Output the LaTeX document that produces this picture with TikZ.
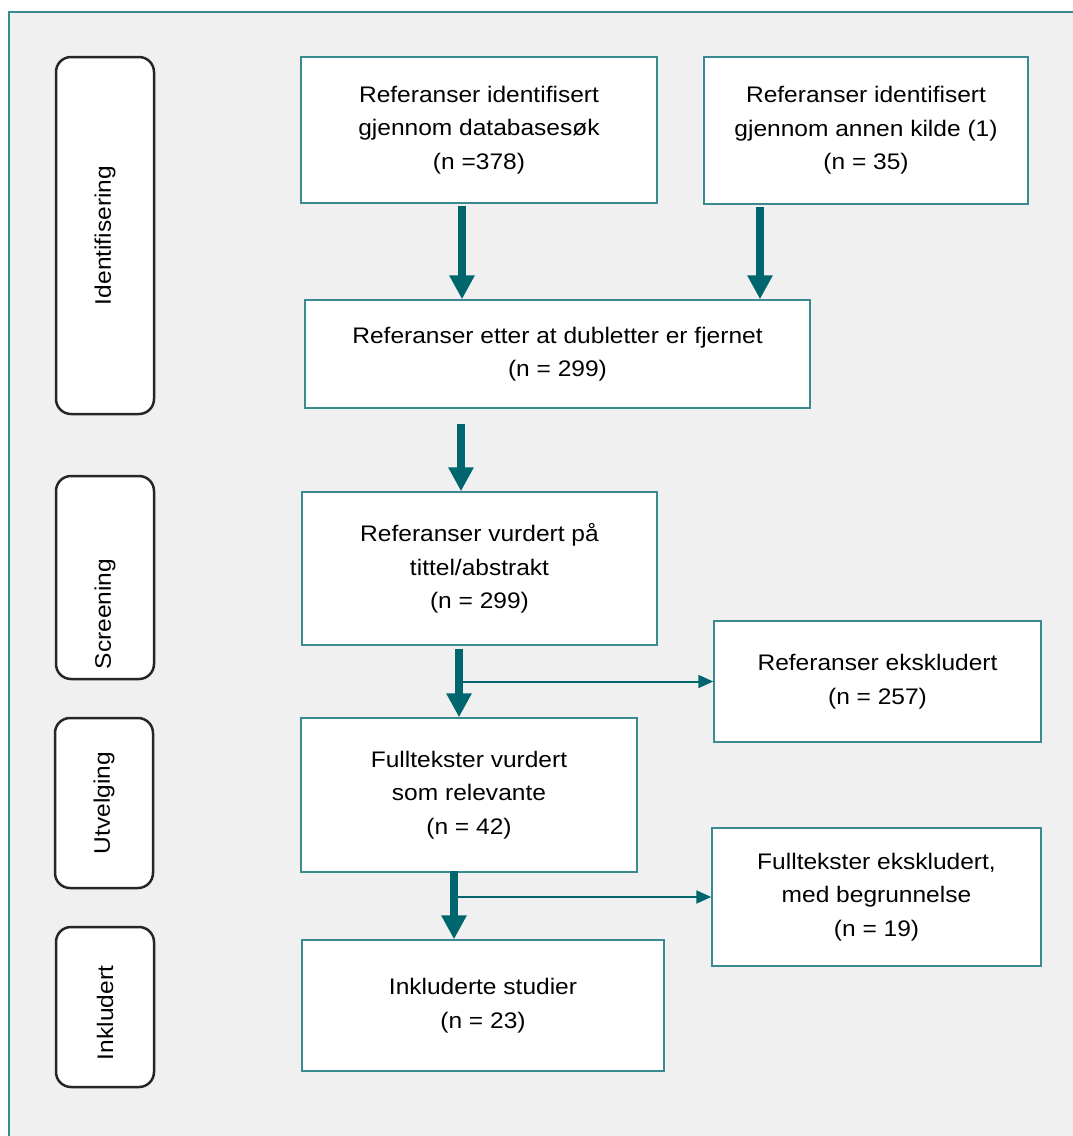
\documentclass[tikz,border=0pt]{standalone}
\usepackage{fontspec}
\setmainfont{Liberation Sans}[FakeStretch=1.09]
\usetikzlibrary{arrows.meta}

\definecolor{boxteal}{HTML}{3A8A92}
\definecolor{arrowteal}{HTML}{00666E}
\definecolor{panelgray}{HTML}{F0F0F0}

\begin{document}
\begin{tikzpicture}[x=1pt, y=-1pt,
    box/.style={draw=boxteal, line width=1.5pt, fill=white, align=center, inner sep=0pt,
        font=\fontsize{22.5}{33.5}\selectfont},
    phase/.style={draw=black!85, line width=2.5pt, fill=white, rounded corners=15pt,
        minimum width=98pt},
    phasetext/.style={rotate=90, inner sep=0pt, font=\fontsize{22.5}{26}\selectfont},
    flow/.style={arrowteal, line width=8pt, -{Triangle[width=24pt,length=24pt]}},
    side/.style={arrowteal, line width=2pt, -{Triangle[width=13pt,length=15pt]}}]
    \useasboundingbox (0,0) rectangle (1073,1136);
    \fill[panelgray] (9,12) rectangle (1073,1136);
    \draw[boxteal, line width=1.5pt] (9,1136) -- (9,12) -- (1073,12);

    \node[phase, minimum height=357pt] (ident) at (105,235.5) {};
    \node[phase, minimum height=203pt] (scr) at (105,577.5) {};
    \node[phase, minimum height=170pt] (utv) at (104,803) {};
    \node[phase, minimum height=160pt] (inkl) at (105,1007) {};

    \node[phasetext] at (ident.center) {Identifisering};
    \node[phasetext] at (105,614) {Screening};
    \node[phasetext] at (utv.center) {Utvelging};
    \node[phasetext] at (105,1013) {Inkludert};

    \node[box, minimum width=356pt, minimum height=146pt] (db) at (479,130)
        {Referanser identifisert\\gjennom databasesøk\\(n =378)};
    \node[box, minimum width=324pt, minimum height=147pt] (other) at (866,130.5)
        {Referanser identifisert\\gjennom annen kilde (1)\\(n = 35)};
    \node[box, minimum width=505pt, minimum height=108pt] (dup) at (557.5,354)
        {Referanser etter at dubletter er fjernet\\(n = 299)};
    \node[box, minimum width=355pt, minimum height=153pt] (screen) at (479.5,568.5)
        {Referanser vurdert på\\tittel/abstrakt\\(n = 299)};
    \node[box, minimum width=327pt, minimum height=121pt] (excl1) at (877.5,681.5)
        {Referanser ekskludert\\(n = 257)};
    \node[box, minimum width=336pt, minimum height=154pt] (full) at (469,795)
        {Fulltekster vurdert\\som relevante\\(n = 42)};
    \node[box, minimum width=329pt, minimum height=138pt] (excl2) at (876.5,897)
        {Fulltekster ekskludert,\\med begrunnelse\\(n = 19)};
    \node[box, minimum width=362pt, minimum height=131pt] (incl) at (483,1005.5)
        {Inkluderte studier\\(n = 23)};

    \coordinate (a1) at (462,0);
    \coordinate (a2) at (760,0);
    \coordinate (a3) at (461,0);
    \coordinate (a4) at (459,0);
    \coordinate (a5) at (454,0);

    \draw[flow] ([yshift=-2pt]db.south -| a1) -- (dup.north -| a1);
    \draw[flow] ([yshift=-2pt]other.south -| a2) -- (dup.north -| a2);
    \draw[flow] ([yshift=-15pt]dup.south -| a3) -- (screen.north -| a3);
    \draw[flow] ([yshift=-3pt]screen.south -| a4) -- (full.north -| a4);
    \draw[flow] ([yshift=2pt]full.south -| a5) -- (incl.north -| a5);

    \draw[side] (excl1.west -| a4) -- (excl1.west);
    \draw[side] (excl2.west -| a5) -- (excl2.west);
\end{tikzpicture}
\end{document}
